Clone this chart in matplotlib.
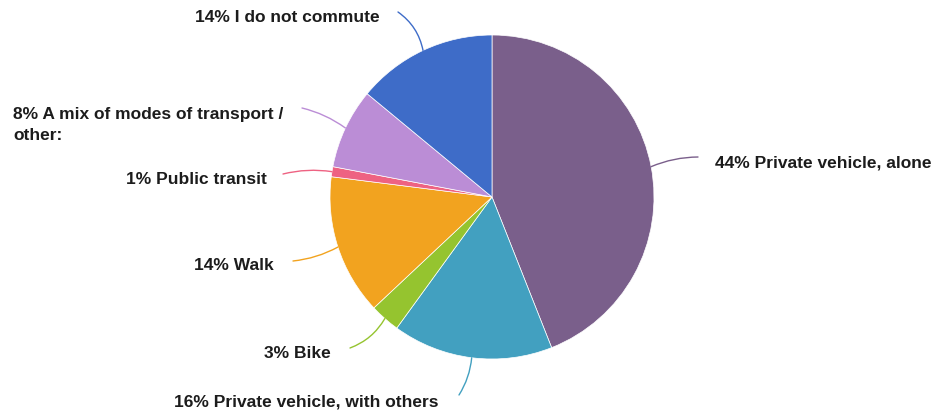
import math
import matplotlib.pyplot as plt

# Commute mode shares (%), clockwise from 12 o'clock
modes = ['Private vehicle, alone', 'Private vehicle, with others', 'Bike', 'Walk',
         'Public transit', 'A mix of modes of transport /\nother:', 'I do not commute']
shares = [44, 16, 3, 14, 1, 8, 14]
colors = ['#7a5f8b', '#42a0c0', '#95c42f', '#f2a31f', '#ee6282', '#bb8dd6', '#3e6cc8']

# label layout in pixel space: text anchor, alignment, leader start, leader bend
label_pos = [(715, 163), (439, 402), (331, 353), (274, 265), (267, 180), (13, 125), (380, 18)]
label_ha = ['left', 'right', 'right', 'right', 'right', 'left', 'right']
leader_end = [(698, 157), (459, 395), (350, 348), (293, 261), (283, 174), (302, 108), (398, 12)]
leader_rad = [0.1, 0.12, 0.18, 0.1, -0.1, -0.1, -0.2]

W, H = 940, 412
CX, CY, R = 492, 197, 162


def px(x, y):
    return (x - CX) / R, (CY - y) / R


fig = plt.figure(figsize=(W / 100, H / 100), dpi=100)
ax = fig.add_axes([0, 0, 1, 1])

wedges, _ = ax.pie(shares, colors=colors, startangle=90, counterclock=False, radius=1,
                   wedgeprops=dict(edgecolor='white', linewidth=0.5))

for w, name, pct, pos, ha, end, rad in zip(wedges, modes, shares, label_pos, label_ha,
                                         leader_end, leader_rad):
    mid = math.radians((w.theta1 + w.theta2) / 2)
    edge = (math.cos(mid), math.sin(mid))
    ax.annotate('', xy=edge, xytext=px(*end),
                arrowprops=dict(arrowstyle='-', color=w.get_facecolor(), lw=1.0,
                                shrinkA=0, shrinkB=0,
                                connectionstyle=f'arc3,rad={rad}'))
    ax.text(*px(*pos), f'{pct}% {name}', ha=ha, va='center', fontsize=12.5,
            fontweight='bold', family='Liberation Sans', color='#1c1c1c',
            linespacing=1.5)

ax.set_xlim(-CX / R, (W - CX) / R)
ax.set_ylim(-(H - CY) / R, CY / R)
ax.set_aspect('auto')
ax.axis('off')

fig.savefig('out.png', dpi=100, facecolor='white')
